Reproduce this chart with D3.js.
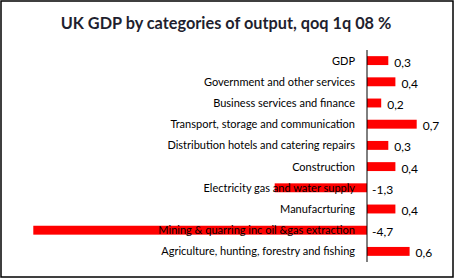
<!DOCTYPE html>
<html>
<head>
<meta charset="utf-8">
<script src="https://cdn.jsdelivr.net/npm/d3@7"></script>
<style>
  body { margin: 0; background: #fff; }
  text { font-family: Lato, "Open Sans", sans-serif; }
</style>
</head>
<body>
<div id="chart"></div>
<script>
// categories and values, top to bottom
const categories = [
    "GDP",
    "Government and other services",
    "Business services and finance",
    "Transport, storage and communication",
    "Distribution hotels and catering repairs",
    "Construction",
    "Electricity gas and water supply",
    "Manufacrturing",
    "Mining & quarring inc oil &gas extraction",
    "Agriculture, hunting, forestry and fishing"
];
const values = [0.3, 0.4, 0.2, 0.7, 0.3, 0.4, -1.3, 0.4, -4.7, 0.6];
const valueLabels = ["0,3", "0,4", "0,2", "0,7", "0,3", "0,4", "-1,3", "0,4", "-4,7", "0,6"];

const width = 456, height = 279;

const svg = d3.select("#chart").append("svg")
    .attr("width", width)
    .attr("height", height);

// outer frame
svg.append("rect")
    .attr("x", 1).attr("y", 1)
    .attr("width", 452).attr("height", 276)
    .attr("fill", "#fff")
    .attr("stroke", "#000")
    .attr("stroke-width", 1.5);

svg.append("text")
    .attr("x", 226).attr("y", 29)
    .attr("text-anchor", "middle")
    .style("font-size", "16.3px")
    .style("font-weight", "bold")
    .attr("fill", "#1f1f2f")
    .text("UK GDP by categories of output, qoq 1q 08 %");

const x = d3.scaleLinear().domain([-5, 1]).range([12, 438]);
const y = d3.scaleBand().domain(categories).range([50, 262]).paddingInner(0.58).paddingOuter(0.29);

let data = categories.map((c, i) => ({ cat: c, value: values[i], label: valueLabels[i] }));

svg.selectAll(".bar")
    .data(data)
    .enter().append("rect")
    .attr("class", "bar")
    .attr("x", d => x(Math.min(0, d.value)))
    .attr("y", d => y(d.cat))
    .attr("width", d => Math.abs(x(d.value) - x(0)))
    .attr("height", y.bandwidth())
    .attr("fill", "#ff0000");

// category labels sit on top of the bars, like the original
svg.selectAll(".cat")
    .data(data)
    .enter().append("text")
    .attr("class", "cat")
    .attr("x", x(0) - 12)
    .attr("y", d => y(d.cat) + y.bandwidth() / 2 + 4)
    .attr("text-anchor", "end")
    .style("font-size", "11px")
    .attr("fill", "#000")
    .text(d => d.cat);

// value labels
svg.selectAll(".val")
    .data(data)
    .enter().append("text")
    .attr("class", "val")
    .attr("x", d => d.value > 0 ? x(d.value) + 6 : x(0) + 5)
    .attr("y", d => y(d.cat) + y.bandwidth() / 2 + 6)
    .style("font-size", "12px")
    .attr("fill", "#000")
    .text(d => d.label);

// zero axis
svg.append("line")
    .attr("x1", x(0)).attr("x2", x(0))
    .attr("y1", 50).attr("y2", 262)
    .attr("stroke", "#000")
    .attr("stroke-width", 1);
</script>
</body>
</html>
